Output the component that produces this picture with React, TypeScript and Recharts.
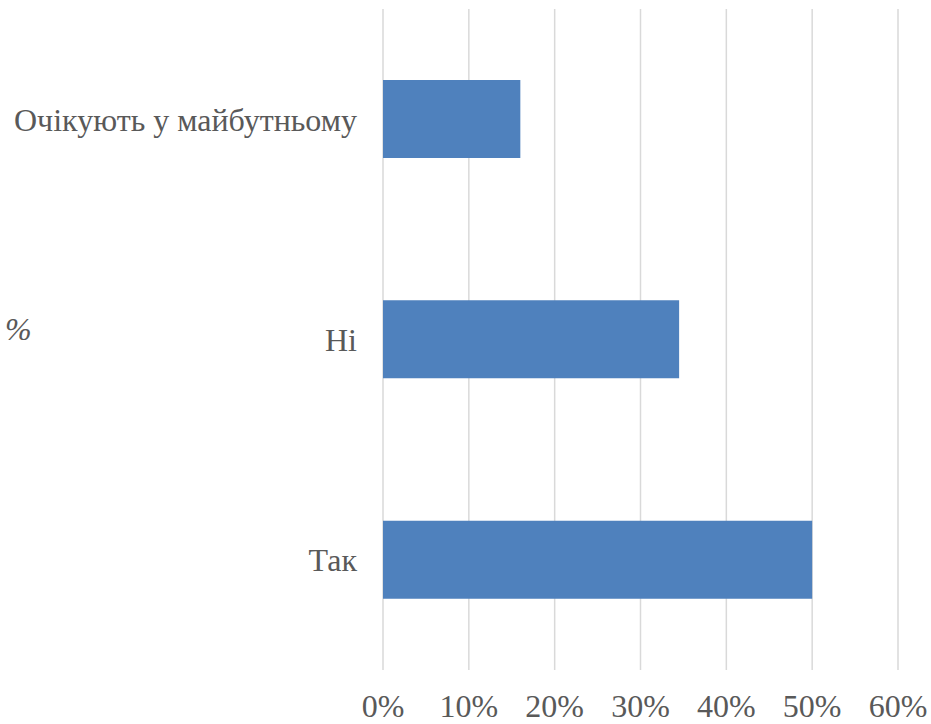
import React from 'react';
import { BarChart, Bar, XAxis, YAxis, CartesianGrid } from 'recharts';

const categories = ['Очікують у майбутньому', 'Ні', 'Так'];
const shares = [0.16, 0.345, 0.5];
const xTicks = [0, 0.1, 0.2, 0.3, 0.4, 0.5, 0.6];

const data = categories.map((name, i) => ({ name, value: shares[i] }));

const FONT = '"Liberation Serif", "Times New Roman", serif';
const TEXT = '#595959';
const FONT_SIZE = 32;

const textStyle: React.CSSProperties = { fontFamily: FONT, fontSize: FONT_SIZE, fill: TEXT };

// something outside keeps overriding the chart font, so force it on the element
const forceSerif = (el: SVGTextElement | null) => {
  if (el) el.style.setProperty('font-family', FONT, 'important');
};

const formatPercent = (v: number) => `${Math.round(v * 100)}%`;

const XTick = (props: any) => {
  const { x, y, payload } = props;
  return (
    <text ref={forceSerif} x={x} y={y + 22} dy="0.71em" textAnchor="middle" style={textStyle}>
      {formatPercent(payload.value)}
    </text>
  );
};

const YTick = (props: any) => {
  const { x, y, payload } = props;
  return (
    <text ref={forceSerif} x={x - 26} y={y} dy="0.355em" textAnchor="end" style={textStyle}>
      {payload.value}
    </text>
  );
};

const PercentLabel = (props: any) => {
  const { viewBox } = props;
  return (
    <text
      ref={forceSerif}
      x={5}
      y={viewBox.y + viewBox.height / 2 - 11}
      dy="0.355em"
      style={{ ...textStyle, fontStyle: 'italic' }}
    >
      %
    </text>
  );
};

const App: React.FC = () => {
  return (
    <div style={{ position: 'absolute', left: 0, top: 0, width: 931, height: 724, background: '#fff' }}>
      <BarChart
        width={931}
        height={724}
        data={data}
        layout="vertical"
        margin={{ top: 9, right: 33, left: 0, bottom: 0 }}
      >
        <CartesianGrid horizontal={false} stroke="#d9d9d9" strokeWidth={1.5} />
        <XAxis
          type="number"
          domain={[0, 0.6]}
          ticks={xTicks}
          axisLine={false}
          tickLine={false}
          tickSize={0}
          height={54}
          interval={0}
          tick={<XTick />}
        />
        <YAxis
          type="category"
          dataKey="name"
          width={383}
          axisLine={false}
          tickLine={false}
          tickSize={0}
          tickMargin={0}
          tick={<YTick />}
          label={<PercentLabel />}
        />
        <Bar dataKey="value" fill="#4f81bd" barSize={78} isAnimationActive={false} />
      </BarChart>
    </div>
  );
};

export default App;
